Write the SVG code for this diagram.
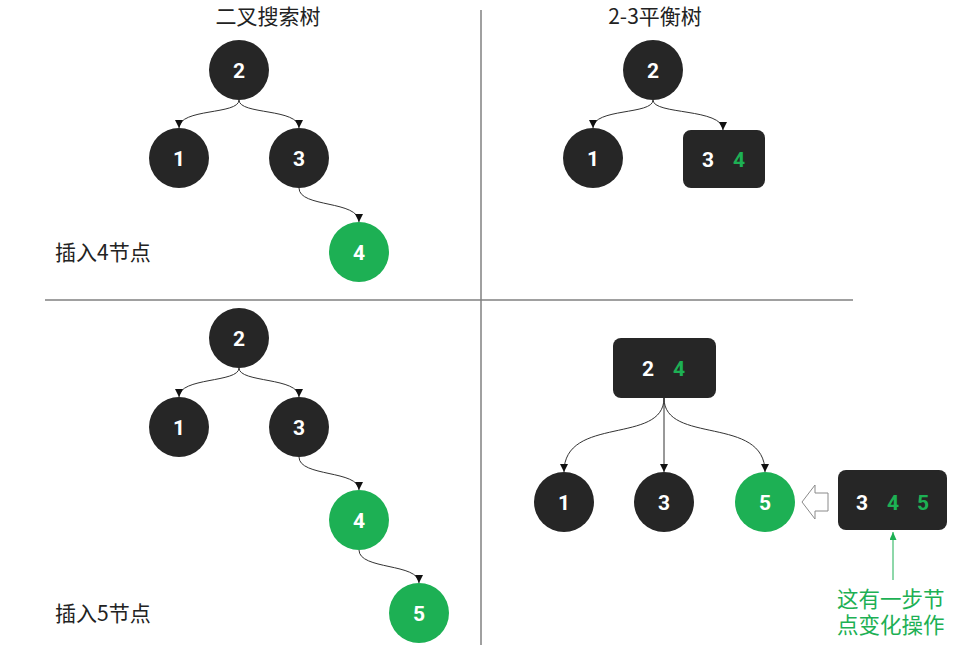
<svg xmlns="http://www.w3.org/2000/svg" width="978" height="648" viewBox="0 0 978 648">
<defs>
<marker id="arr" markerUnits="userSpaceOnUse" markerWidth="9" markerHeight="9" refX="8" refY="4" orient="auto">
<path d="M0,0 L8,4 L0,8 z" fill="#111"/>
</marker>
<marker id="garr" markerUnits="userSpaceOnUse" markerWidth="9" markerHeight="9" refX="8" refY="3.5" orient="auto">
<path d="M0,0 L8,3.5 L0,7 z" fill="#1db054"/>
</marker>
<style>
.dark{fill:#262626}
.green{fill:#1db054}
.num{font-family:Roboto,"Liberation Sans",sans-serif;font-weight:bold;font-size:21px;text-anchor:middle}
.w{fill:#ffffff}
.g{fill:#1db054}
.cjk{font-family:"Noto Sans CJK SC","Noto Sans",sans-serif;font-size:21px;fill:#222}
.note{font-family:"Noto Sans CJK SC","Noto Sans",sans-serif;font-size:21.5px;fill:#1db054}
.edge{fill:none;stroke:#333;stroke-width:1;marker-end:url(#arr)}
.div{stroke:#808080;stroke-width:1.5}
</style>
</defs>
<rect width="978" height="648" fill="#ffffff"/>

<g id="dividers">
<line class="div" x1="481" y1="10" x2="481" y2="645"/>
<line class="div" x1="45" y1="300" x2="853" y2="300"/>
</g>

<g id="labels">
<text class="cjk" x="268" y="24" text-anchor="middle">二叉搜索树</text>
<text class="cjk" x="655" y="24" text-anchor="middle">2-3平衡树</text>
<text class="cjk" x="55" y="260">插入4节点</text>
<text class="cjk" x="55" y="621">插入5节点</text>
<text class="note" x="837" y="607">这有一步节<tspan x="837" dy="26">点变化操作</tspan></text>
</g>

<g id="connectors">
<path class="edge" d="M239,100 C239,115 179,108 179,128"/>
<path class="edge" d="M239,100 C239,115 299,108 299,128"/>
<path class="edge" d="M299,188 C299,208 359,200 359,222"/>
<path class="edge" d="M653,100 C653,115 593,108 593,128"/>
<path class="edge" d="M653,100 C653,115 723,108 723,130"/>
<path class="edge" d="M239,368 C239,383 179,377 179,397"/>
<path class="edge" d="M239,368 C239,383 299,377 299,397"/>
<path class="edge" d="M299,457 C299,477 359,470 359,490"/>
<path class="edge" d="M359,550 C359,570 419,563 419,583"/>
<path class="edge" d="M664,398 C664,445 564,415 564,472"/>
<path class="edge" d="M664,398 L664,472"/>
<path class="edge" d="M664,398 C664,445 765,415 765,472"/>
<polygon points="802,502 815,485 815,493 828,493 828,511 815,511 815,519" fill="#ffffff" stroke="#8a8a8a" stroke-width="1"/>
<line x1="893" y1="580" x2="893" y2="532" stroke="#1db054" stroke-width="1" marker-end="url(#garr)"/>
</g>

<g id="tl-2"><circle class="dark" cx="239" cy="70" r="30"/><text class="num w" x="239" y="78">2</text></g>
<g id="tl-1"><circle class="dark" cx="179" cy="158" r="30"/><text class="num w" x="179" y="166">1</text></g>
<g id="tl-3"><circle class="dark" cx="299" cy="158" r="30"/><text class="num w" x="299" y="166">3</text></g>
<g id="tl-4"><circle class="green" cx="359" cy="252" r="30"/><text class="num w" x="359" y="260">4</text></g>

<g id="tr-2"><circle class="dark" cx="653" cy="70" r="30"/><text class="num w" x="653" y="78">2</text></g>
<g id="tr-1"><circle class="dark" cx="593" cy="158" r="30"/><text class="num w" x="593" y="166">1</text></g>
<g id="tr-34"><rect class="dark" x="683" y="130" width="82" height="58" rx="8"/><text class="num w" x="708" y="167">3</text><text class="num g" x="739" y="167">4</text></g>

<g id="bl-2"><circle class="dark" cx="239" cy="338" r="30"/><text class="num w" x="239" y="346">2</text></g>
<g id="bl-1"><circle class="dark" cx="179" cy="427" r="30"/><text class="num w" x="179" y="435">1</text></g>
<g id="bl-3"><circle class="dark" cx="299" cy="427" r="30"/><text class="num w" x="299" y="435">3</text></g>
<g id="bl-4"><circle class="green" cx="359" cy="520" r="30"/><text class="num w" x="359" y="528">4</text></g>
<g id="bl-5"><circle class="green" cx="419" cy="613" r="30"/><text class="num w" x="419" y="621">5</text></g>

<g id="br-24"><rect class="dark" x="613" y="338" width="103" height="60" rx="8"/><text class="num w" x="648" y="376">2</text><text class="num g" x="679" y="376">4</text></g>
<g id="br-1"><circle class="dark" cx="564" cy="502" r="30"/><text class="num w" x="564" y="510">1</text></g>
<g id="br-3"><circle class="dark" cx="664" cy="502" r="30"/><text class="num w" x="664" y="510">3</text></g>
<g id="br-5"><circle class="green" cx="765" cy="502" r="30"/><text class="num w" x="765" y="510">5</text></g>
<g id="br-345"><rect class="dark" x="838" y="470" width="109" height="60" rx="8"/><text class="num w" x="862" y="510">3</text><text class="num g" x="893" y="510">4</text><text class="num g" x="923" y="510">5</text></g>
</svg>
